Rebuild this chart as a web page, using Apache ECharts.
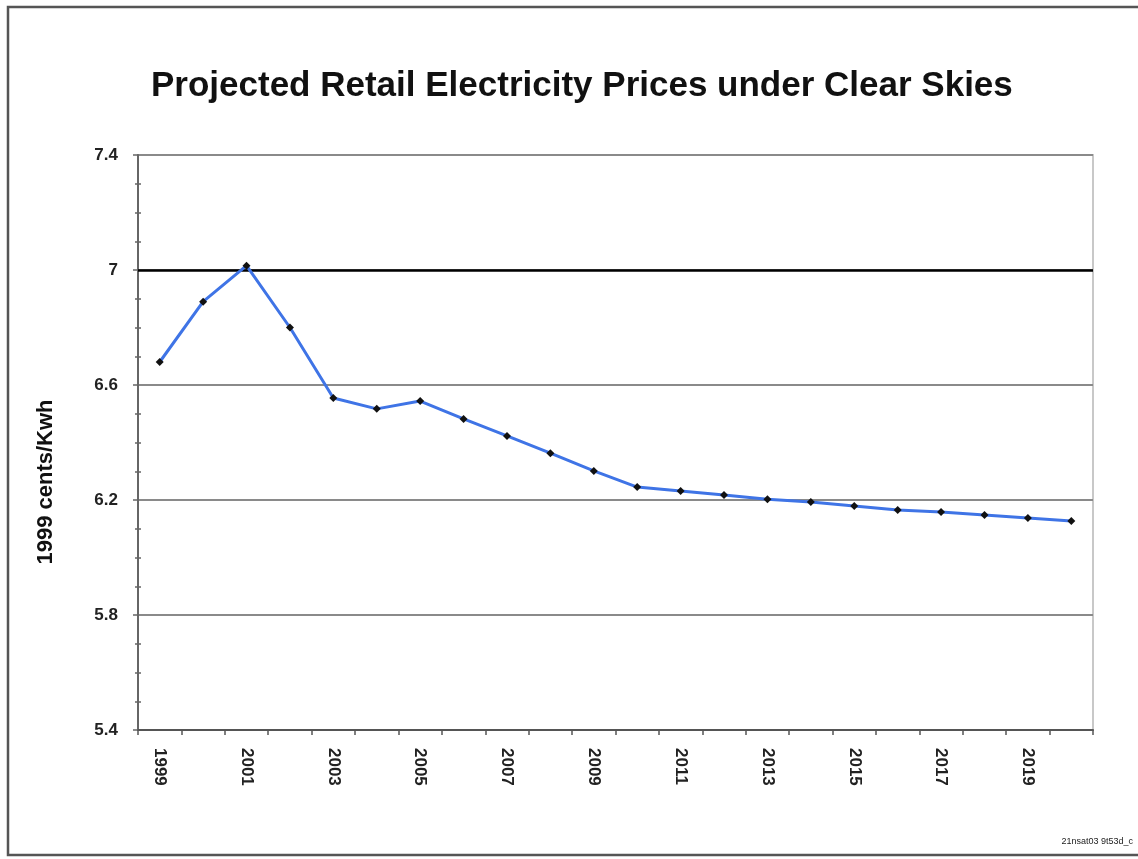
<!DOCTYPE html>
<html>
<head>
<meta charset="utf-8">
<script src="https://cdn.jsdelivr.net/npm/echarts@6/dist/echarts.min.js"></script>
<style>
html,body{margin:0;padding:0;background:#fff;}
#chart{width:1138px;height:859px;}
</style>
</head>
<body>
<div id="chart"></div>
<script>
const titleText = 'Projected Retail Electricity Prices under Clear Skies';
const yAxisTitle = '1999 cents/Kwh';
const footnote = '21nsat03 9t53d_c';
const years = ['1999','2000','2001','2002','2003','2004','2005','2006','2007','2008','2009','2010',
               '2011','2012','2013','2014','2015','2016','2017','2018','2019','2020'];
const prices = [6.68, 6.89, 7.015, 6.80, 6.555, 6.517, 6.544, 6.482, 6.423, 6.363, 6.301, 6.245,
                6.231, 6.217, 6.203, 6.193, 6.179, 6.165, 6.158, 6.148, 6.137, 6.127];
const yMin = 5.4, yMax = 7.4, yStep = 0.4;
const highlightLevel = 7;

const chart = echarts.init(document.getElementById('chart'), null, {renderer:'canvas'});
const font = 'Liberation Sans, Arial, sans-serif';
chart.setOption({
  animation: false,
  backgroundColor: '#fff',
  title: {
    text: titleText, left: 146, top: 64,
    textStyle: {fontFamily: font, fontSize: 35, fontWeight: 'bold', color: '#111'}
  },
  graphic: [
    {type:'rect', shape:{x:8, y:7, width:1140, height:848}, style:{fill:'none', stroke:'#555', lineWidth:2.5}, z:0},
    {type:'text', x:46, y:482, rotation: Math.PI/2,
     style:{text:yAxisTitle, font:'bold 22px ' + font, fill:'#111', align:'center', verticalAlign:'middle'}},
    {type:'text', x:1133, y:842,
     style:{text:footnote, font:'9px ' + font, fill:'#222', align:'right', verticalAlign:'middle'}}
  ],
  grid: {left:138, top:155, width:955, height:575, show:true, borderColor:'#c8c8c8', borderWidth:2, backgroundColor:'transparent'},
  xAxis: {
    type:'category', data: years, boundaryGap: true,
    axisLine:{lineStyle:{color:'#555', width:2}},
    axisTick:{show:true, interval:0, length:5, lineStyle:{color:'#555', width:1.5}},
    axisLabel:{interval:1, rotate:-90, margin:18, fontFamily:font, fontSize:17, fontWeight:'bold', color:'#222'},
    splitLine:{show:false}
  },
  yAxis: [{
    type:'value', min:yMin, max:yMax, interval:yStep,
    axisLine:{show:true, lineStyle:{color:'#666', width:2}},
    axisTick:{show:true, length:5, lineStyle:{color:'#666', width:1.5}},
    minorTick:{show:true, splitNumber:4, length:3, lineStyle:{color:'#666', width:1.5}},
    axisLabel:{margin:20, fontFamily:font, fontSize:17, fontWeight:'bold', color:'#222',
               formatter: v => String(Math.round(v*10)/10)},
    splitLine:{show:true, lineStyle:{color:'#8a8a8a', width:2}}
  },{
    type:'value', min:yMin, max:yMax, interval:yStep, position:'left',
    axisLine:{show:false}, axisLabel:{show:false}, splitLine:{show:false},
    axisTick:{show:false, inside:true},
    minorTick:{show:true, splitNumber:4, length:3, lineStyle:{color:'#666', width:1.5}}
  }],
  series: [{
    type:'line', data: prices, yAxisIndex:0,
    lineStyle:{color:'#3f74e6', width:3},
    symbol:'diamond', symbolSize:8, showAllSymbol:true,
    itemStyle:{color:'#111'},
    markLine:{silent:true, symbol:'none', label:{show:false},
      lineStyle:{color:'#000', width:2.5, type:'solid'},
      data:[{yAxis: highlightLevel}]},
    z:5
  }]
});
</script>
</body>
</html>
